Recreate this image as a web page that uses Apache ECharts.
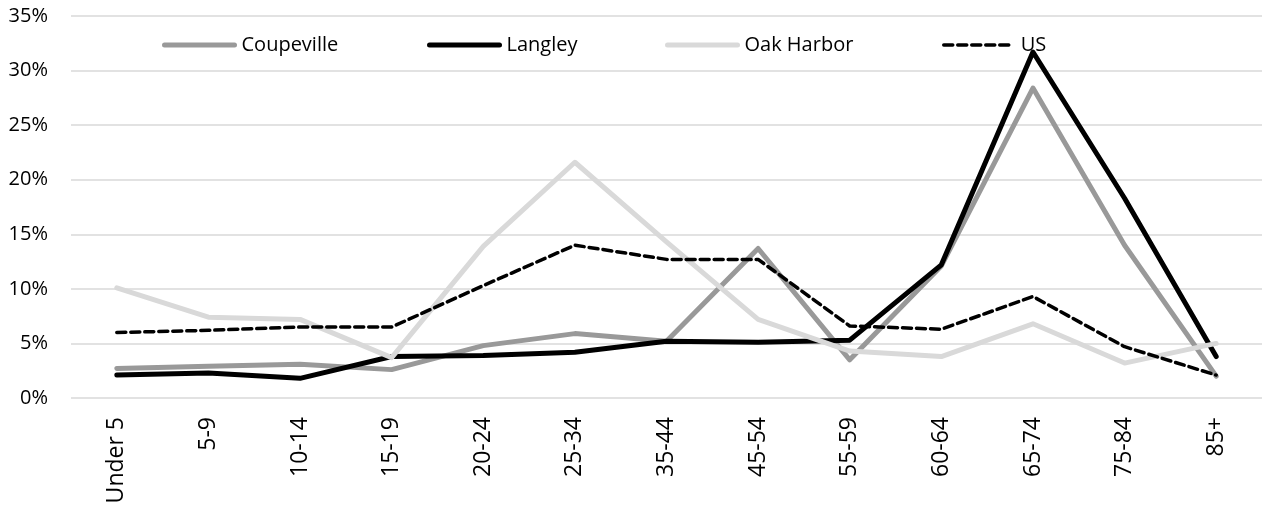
<!DOCTYPE html>
<html lang="en">
<head>
    <meta charset="UTF-8">
    <title>Age distribution</title>
    <style>
        html, body { margin: 0; padding: 0; background: #fff; }
        #main { width: 1267px; height: 508px; }
    </style>
</head>
<body>
<div id="main"></div>
<script src="https://cdn.jsdelivr.net/npm/echarts@6/dist/echarts.min.js"></script>
<script>
    // 年龄段
    let ageGroups = ['Under 5', '5-9', '10-14', '15-19', '20-24', '25-34', '35-44', '45-54', '55-59', '60-64', '65-74', '75-84', '85+'];
    // 各地区占比 (%)
    let coupeville = [2.7, 2.9, 3.1, 2.6, 4.8, 5.9, 5.2, 13.7, 3.5, 12.1, 28.4, 14.0, 2.0];
    let langley = [2.1, 2.3, 1.8, 3.8, 3.9, 4.2, 5.2, 5.1, 5.3, 12.2, 31.7, 18.3, 3.8];
    let oakHarbor = [10.1, 7.4, 7.2, 3.7, 13.9, 21.6, 14.3, 7.2, 4.3, 3.8, 6.8, 3.2, 5.0];
    let us = [6.0, 6.2, 6.5, 6.5, 10.3, 14.0, 12.7, 12.7, 6.6, 6.3, 9.3, 4.7, 2.1];

    let font = '"Open Sans", sans-serif';

    // 图例 (每项单独定位)
    let legendItem = (name, left, width) => ({
        data: [name],
        left: left,
        top: 35,
        padding: 0,
        itemWidth: 70,
        itemHeight: 12,
        itemGap: 0,
        selectedMode: false,
        itemStyle: {opacity: 0},
        lineStyle: {width: width, cap: 'round'},
        textStyle: {color: '#000', fontFamily: font, fontSize: 20, padding: [0, 0, 0, 2]}
    });

    let lineSeries = (name, data, color, width, type) => ({
        name: name,
        type: 'line',
        data: data,
        symbol: 'none',
        animation: false,
        lineStyle: {color: color, width: width, type: type || 'solid', cap: 'round', join: 'round'},
        itemStyle: {color: color}
    });

    let myChart = echarts.init(document.getElementById('main'));
    let option = {
        backgroundColor: '#fff',
        animation: false,
        grid: {left: 71, right: 5, top: 16, bottom: 110},
        legend: [
            legendItem('Coupeville', 162, 5),
            legendItem('Langley', 427, 5),
            legendItem('Oak Harbor', 665, 5),
            legendItem('US', 942, 3.5)
        ],
        xAxis: {
            type: 'category',
            data: ageGroups,
            boundaryGap: true,
            axisLine: {show: false},
            axisTick: {show: false},
            axisLabel: {
                rotate: 90,
                margin: 19,
                color: '#000',
                fontFamily: font,
                fontSize: 23,
                interval: 0
            }
        },
        yAxis: {
            type: 'value',
            min: 0,
            max: 35,
            interval: 5,
            axisLine: {show: false},
            axisTick: {show: false},
            splitLine: {lineStyle: {color: '#d9d9d9', width: 1.5}},
            axisLabel: {
                formatter: '{value}%',
                margin: 23,
                color: '#000',
                fontFamily: font,
                fontSize: 20
            }
        },
        series: [
            lineSeries('Coupeville', coupeville, '#999999', 5),
            lineSeries('Langley', langley, '#000000', 5),
            lineSeries('Oak Harbor', oakHarbor, '#d9d9d9', 5),
            lineSeries('US', us, '#000000', 3.5, [9, 5])
        ]
    };
    myChart.setOption(option);
</script>
</body>
</html>
